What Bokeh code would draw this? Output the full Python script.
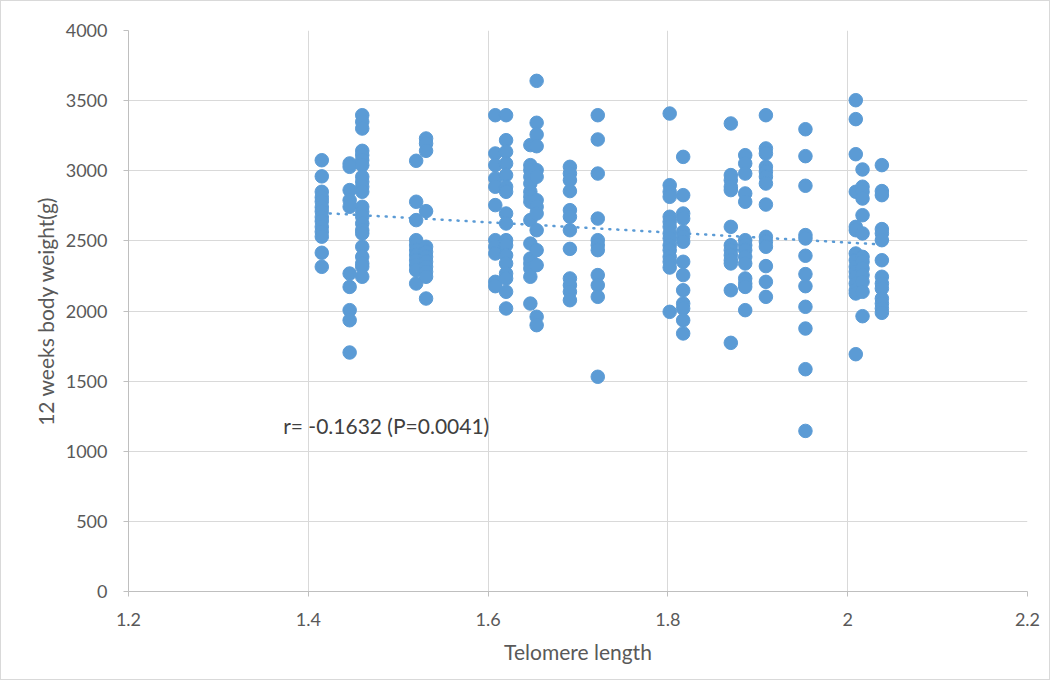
import numpy as np
from bokeh.plotting import figure
from bokeh.models import Range1d, FixedTicker, Label, ColumnDataSource, CustomJSTickFormatter
from bokeh.embed import file_html
from bokeh.resources import INLINE

# Telomere length of each vertical group of points
telomere = [1.415, 1.446, 1.460, 1.520, 1.531, 1.608, 1.620, 1.647, 1.654, 1.691,
            1.722, 1.802, 1.817, 1.870, 1.886, 1.909, 1.953, 2.009, 2.0165, 2.038]

# 12 weeks body weight (g) for each group
weights = [
    [3075, 2960, 2850, 2810, 2780, 2740, 2710, 2670, 2640, 2600, 2565, 2530, 2415, 2315],
    [3052, 3028, 2862, 2790, 2743, 2267, 2172, 2006, 1934, 1704],
    [3396, 3349, 3301, 3142, 3111, 3075, 3040, 2957, 2921, 2886, 2850, 2743, 2707, 2672,
     2624, 2576, 2553, 2458, 2386, 2339, 2315, 2244],
    [3071, 2779, 2648, 2505, 2469, 2434, 2398, 2362, 2327, 2291, 2196],
    [3230, 3194, 3142, 2712, 2458, 2422, 2386, 2351, 2315, 2280, 2244, 2089],
    [3396, 3123, 3040, 2945, 2886, 2755, 2505, 2458, 2410, 2208, 2177],
    [3396, 3218, 3135, 3052, 2969, 2886, 2850, 2695, 2624, 2505, 2469, 2398, 2339, 2267,
     2232, 2137, 2018],
    [3183, 3040, 3004, 2957, 2909, 2850, 2814, 2779, 2648, 2481, 2374, 2339, 2303, 2244, 2053],
    [3641, 3342, 3258, 3175, 3004, 2957, 2790, 2743, 2695, 2576, 2434, 2327, 1959, 1899],
    [3028, 2980, 2933, 2855, 2719, 2672, 2576, 2443, 2232, 2184, 2137, 2077],
    [3396, 3223, 2980, 2659, 2505, 2469, 2434, 2256, 2184, 2101, 1531],
    [3408, 2897, 2850, 2814, 2672, 2636, 2600, 2553, 2517, 2469, 2434, 2386, 2351, 2310, 1994],
    [3099, 2826, 2695, 2659, 2565, 2529, 2494, 2351, 2256, 2148, 2053, 2018, 1934, 1840],
    [3337, 2969, 2933, 2886, 2862, 2600, 2469, 2434, 2398, 2362, 2339, 2148, 1773],
    [3111, 3052, 2980, 2838, 2779, 2505, 2469, 2434, 2386, 2339, 2232, 2196, 2172, 2006],
    [3396, 3159, 3123, 3028, 2993, 2957, 2909, 2759, 2529, 2494, 2458, 2320, 2208, 2101],
    [3296, 3104, 2893, 2541, 2517, 2394, 2263, 2177, 2030, 1875, 1585, 1145],
    [3503, 3368, 3118, 2850, 2600, 2576, 2410, 2362, 2315, 2280, 2244, 2196, 2148, 2125, 1692],
    [3009, 2886, 2850, 2802, 2683, 2553, 2386, 2351, 2303, 2256, 2208, 2137, 1963],
    [3040, 2855, 2826, 2584, 2553, 2505, 2362, 2244, 2196, 2160, 2089, 2053, 2018, 1987],
]

x_ticks = [1.2, 1.4, 1.6, 1.8, 2.0, 2.2]
y_ticks = [0, 500, 1000, 1500, 2000, 2500, 3000, 3500, 4000]
annotation = "r= -0.1632 (P=0.0041)"

xs = [t for t, ws in zip(telomere, weights) for _ in ws]
ys = [w for ws in weights for w in ws]
src = ColumnDataSource(dict(x=xs, y=ys))

FONT = "Lato"
BLUE = "#5b9bd5"
GRID = "#d9d9d9"
TXT = "#595959"

p = figure(width=1050, height=680, output_backend="svg", toolbar_location=None,
           x_range=Range1d(1.2, 2.2), y_range=Range1d(0, 4000),
           min_border_left=127, min_border_right=24, min_border_top=29, min_border_bottom=90)
p.styles = {"border": "1px solid #d9d9d9"}
p.outline_line_color = None
p.background_fill_color = "white"
p.border_fill_color = "white"

p.xaxis.ticker = FixedTicker(ticks=x_ticks)
p.yaxis.ticker = FixedTicker(ticks=y_ticks)
p.xaxis.formatter = CustomJSTickFormatter(code="return tick.toFixed(1).replace(/\\.0$/, '');")

for ax in (p.xaxis[0], p.yaxis[0]):
    ax.axis_line_color = "#bfbfbf"
    ax.major_tick_line_color = "#bfbfbf"
    ax.major_tick_out = 5
    ax.major_tick_in = 0
    ax.minor_tick_line_color = None
    ax.major_label_text_font = FONT
    ax.major_label_text_font_size = "18px"
    ax.major_label_text_color = TXT
    ax.axis_label_text_font = FONT
    ax.axis_label_text_font_size = "21px"
    ax.axis_label_text_font_style = "normal"
    ax.axis_label_text_color = TXT

p.xaxis.axis_label = "Telomere length"
p.yaxis.axis_label = "12 weeks body weight(g)"
p.xaxis.major_label_standoff = 16
p.yaxis.major_label_standoff = 16
p.xaxis.axis_label_standoff = 10
p.yaxis.axis_label_standoff = 5

p.xgrid.ticker = FixedTicker(ticks=x_ticks)
p.ygrid.ticker = FixedTicker(ticks=y_ticks)
p.xgrid.grid_line_color = GRID
p.ygrid.grid_line_color = GRID

# linear trend line fitted to the data
slope, intercept = np.polyfit(xs, ys, 1)
lx = [min(xs), max(xs)]
ly = [slope * v + intercept for v in lx]
p.line(lx, ly, line_color=BLUE, line_width=2.5, line_dash="1 7", line_cap="round")

p.scatter("x", "y", source=src, size=13.5, fill_color=BLUE, line_color=BLUE)

p.add_layout(Label(x=1.372, y=1184, text=annotation, text_font=FONT, text_font_size="21px",
                   text_color="#404040", text_baseline="middle"))

open("out.html", "w").write(file_html(p, INLINE))
